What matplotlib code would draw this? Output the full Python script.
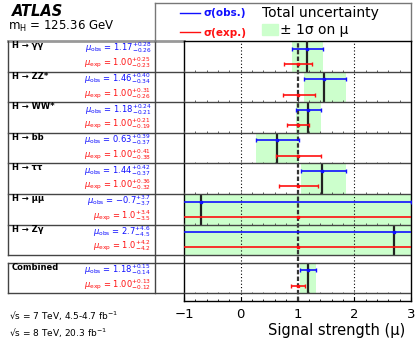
import numpy as np
import matplotlib
matplotlib.use("Agg")
import matplotlib.pyplot as plt
import matplotlib.transforms as mtransforms
from matplotlib.patches import Rectangle
from matplotlib.ticker import MultipleLocator

plt.rcParams['font.family'] = ['DejaVu Sans']
plt.rcParams['mathtext.fontset'] = 'dejavusans'

# values
channels = ['H → γγ', 'H → ZZ*', 'H → WW*', 'H → bb', 'H → ττ', 'H → μμ', 'H → Zγ', 'Combined']
mu_obs = [1.17, 1.46, 1.18, 0.63, 1.44, -0.7, 2.7, 1.18]
obs_up = [0.28, 0.40, 0.24, 0.39, 0.42, 3.7, 4.6, 0.15]
obs_dn = [0.26, 0.34, 0.21, 0.37, 0.37, 3.7, 4.5, 0.14]
mu_exp = [1.0, 1.0, 1.0, 1.0, 1.0, 1.0, 1.0, 1.0]
exp_up = [0.25, 0.31, 0.21, 0.41, 0.36, 3.4, 4.2, 0.13]
exp_dn = [0.23, 0.26, 0.19, 0.38, 0.32, 3.5, 4.2, 0.12]
decimals = [2, 2, 2, 2, 2, 1, 1, 2]
xticks = [-1, 0, 1, 2, 3]

# row layout (data units on the plot's y axis, top of each panel)
tops = np.array([8.5, 7.5, 6.5, 5.5, 4.5, 3.5, 2.5, 1.25])

fig = plt.figure(figsize=(4.2, 3.43), dpi=100)
bg = fig.add_axes([0, 0, 1, 1])
bg.set_xlim(0, 420)
bg.set_ylim(343, 0)
bg.axis('off')

ax = fig.add_axes([184 / 420, 42 / 343, 227 / 420, 260 / 343])
ax.set_xlim(-1, 3)
ax.set_ylim(0, 8.5)

green = '#ccffcc'
blue = '#1010ff'
red = '#ff1010'

# bands, central lines, error bars
ax.barh(tops - 0.5, np.array(obs_up) + np.array(obs_dn), left=np.array(mu_obs) - np.array(obs_dn),
        height=1.0, color=green, zorder=1)
ax.vlines(mu_obs, tops - 1, tops, color='#222222', lw=1.6, zorder=4)
ax.errorbar(mu_obs, tops - 0.25, xerr=[obs_dn, obs_up], fmt='s', ms=2, color=blue,
            elinewidth=1.2, capsize=1.5, capthick=1, zorder=5)
ax.errorbar(mu_exp, tops - 0.75, xerr=[exp_dn, exp_up], fmt='s', ms=2, color=red,
            elinewidth=1.2, capsize=1.5, capthick=1, zorder=5)

# reference lines
for xv in [0, 2]:
    ax.axvline(xv, color='black', lw=0.8, ls=(0, (1, 2)), zorder=3)
ax.axvline(1, color='#333333', lw=1.6, ls=(0, (2, 1)), zorder=3)

# panel separators with small ticks
seps = [7.5, 6.5, 5.5, 4.5, 3.5, 2.5, 1.5, 1.25, 0.25]
ax.hlines(seps, -1, 3, color='#444444', lw=1, zorder=4)
minor_x = np.arange(-1, 3.001, 0.2)
for s in [7.5, 6.5, 5.5, 4.5, 3.5, 2.5, 0.25]:
    ax.vlines(minor_x, s, s + 0.06, color='#444444', lw=0.6, zorder=4)

ax.set_xticks(xticks)
ax.set_xticklabels(['−1', '0', '1', '2', '3'], fontsize=9.5)
ax.xaxis.set_minor_locator(MultipleLocator(0.2))
ax.set_yticks([])
ax.tick_params(axis='x', direction='in', length=3, width=0.8, pad=5)
ax.tick_params(axis='x', which='minor', direction='in', length=1.5, width=0.6)
for sp in ax.spines.values():
    sp.set_linewidth(1)

# left table, x in pixels, y follows plot rows
blend = mtransforms.blended_transform_factory(bg.transData, ax.transData)
line_kw = dict(color='#444444', lw=1, transform=blend, clip_on=False)
bg.plot([8, 184], [8.5, 8.5], color='#999999', lw=2, transform=blend, clip_on=False)
for s in [7.5, 6.5, 5.5, 4.5, 3.5, 2.5, 1.5, 1.25, 0.25]:
    bg.plot([8, 184], [s, s], **line_kw)
bg.plot([8, 8], [8.5, 1.5], **line_kw)
bg.plot([8, 8], [1.25, 0.25], **line_kw)
bg.plot([155, 155], [8.5, 0.25], **line_kw)

for i, name in enumerate(channels):
    top = tops[i]
    d = decimals[i]
    bg.text(12, top - 0.15, name, transform=blend, fontsize=6, fontweight='bold', va='center')
    obs_str = r'$\mu_{\rm obs}$ = $%.*f^{+%.*f}_{-%.*f}$' % (d, mu_obs[i], d, obs_up[i], d, obs_dn[i])
    exp_str = r'$\mu_{\rm exp}$ = $%.*f^{+%.*f}_{-%.*f}$' % (d, mu_exp[i], d, exp_up[i], d, exp_dn[i])
    bg.text(151, top - 0.23, obs_str, transform=blend, fontsize=6, color=blue, ha='right', va='center')
    bg.text(151, top - 0.71, exp_str, transform=blend, fontsize=6, color=red, ha='right', va='center')

# header and legend box
bg.text(12, 11, 'ATLAS', fontsize=10.5, fontweight='bold', fontstyle='italic', va='center')
bg.text(8, 26, r'm$_{\rm H}$ = 125.36 GeV', fontsize=8.5, va='center')
bg.plot([155, 411], [3, 3], color='#777777', lw=1)
bg.plot([155, 155], [3, 41], color='#777777', lw=1)
bg.plot([411, 411], [3, 41], color='#777777', lw=1)
bg.plot([180, 200], [13, 13], color=blue, lw=1)
bg.plot([180, 200], [32, 32], color=red, lw=1)
bg.text(203, 13.5, 'σ(obs.)', fontsize=7.5, color=blue, fontweight='bold', va='center')
bg.text(203, 32.5, 'σ(exp.)', fontsize=7.5, color=red, fontweight='bold', va='center')
bg.text(262, 13.5, 'Total uncertainty', fontsize=10, va='center')
bg.add_patch(Rectangle((262, 24), 16, 11, color=green))
bg.text(280, 30, '± 1σ on μ', fontsize=10, va='center')

# footer
bg.text(9, 316, '√s = 7 TeV, 4.5-4.7 fb$^{-1}$', fontsize=6.5, va='center')
bg.text(9, 333, '√s = 8 TeV, 20.3 fb$^{-1}$', fontsize=6.5, va='center')
bg.text(405, 330, 'Signal strength (μ)', fontsize=10.5, ha='right', va='center')

fig.savefig('out.png', dpi=100)
